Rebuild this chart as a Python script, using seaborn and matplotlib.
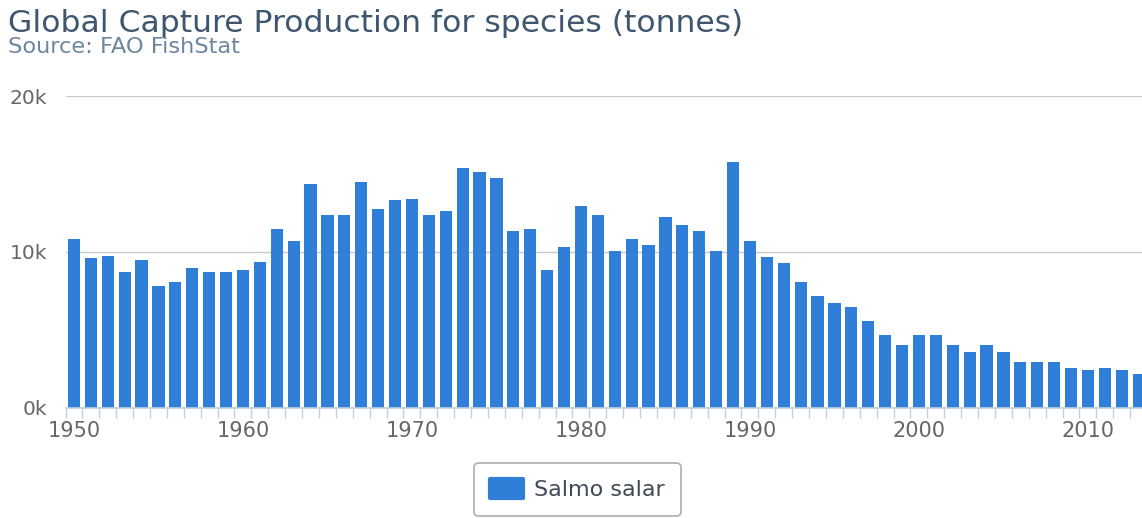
import matplotlib
matplotlib.use("Agg")
import matplotlib.pyplot as plt
from matplotlib.ticker import FixedLocator
import seaborn as sns
import pandas as pd

years = list(range(1950, 2014))
capture_tonnes = [
    10820, 9630, 9740, 8690, 9490, 7810, 8050, 8970, 8690, 8690,
    8860, 9360, 11480, 10690, 14350, 12360, 12360, 14480, 12770, 13300,
    13410, 12360, 12640, 15380, 15140, 14740, 11330, 11480, 8860, 10300,
    12910, 12360, 10040, 10820, 10410, 12250, 11720, 11350, 10040, 15790,
    10690, 9660, 9250, 8050, 7130, 6740, 6480, 5580, 4640, 4000,
    4640, 4640, 4000, 3590, 4000, 3590, 2950, 2950, 2950, 2540,
    2410, 2540, 2410, 2150,
]
series_name = "Salmo salar"
y_ticks = [0, 10000, 20000]
y_tick_labels = ["0k", "10k", "20k"]
title = "Global Capture Production for species (tonnes)"
subtitle = "Source: FAO FishStat"

df = pd.DataFrame({
    "year": [str(y) for y in years],
    "tonnes": capture_tonnes,
    "species": series_name,
})

sns.set_theme(style="white")
plt.rcParams["font.family"] = ["DejaVu Sans"]

W, H = 1142, 518
fig = plt.figure(figsize=(W / 100, H / 100), dpi=100)
left_px, right_px, top_px, bottom_px = 65.5, 1142, 96, 407.5
ax = fig.add_axes([left_px / W, 1 - bottom_px / H,
                   (right_px - left_px) / W, (bottom_px - top_px) / H])

bar_color = "#2F7ED8"
sns.barplot(data=df, x="year", y="tonnes", hue="species",
            palette=[bar_color], saturation=1, width=0.72, ax=ax, legend=True,
            edgecolor="none", linewidth=0)

ax.set_xlim(-0.5, 63.2)
ax.set_ylim(0, 20000)
ax.set_xlabel("")
ax.set_ylabel("")

# grid
ax.set_yticks(y_ticks)
ax.set_yticklabels(y_tick_labels)
ax.yaxis.grid(True, color="#C8C8C8", linewidth=1.0)
ax.set_axisbelow(True)
ax.tick_params(axis="y", length=0, pad=13, labelsize=14.5, labelcolor="#666666")

# x axis ticks
major_pos = [i for i, y in enumerate(years) if y % 10 == 0]
ax.set_xticks(major_pos)
ax.set_xticklabels([str(years[i]) for i in major_pos])
ax.xaxis.set_minor_locator(FixedLocator([i + 0.5 for i in range(-1, len(years))]))
ax.tick_params(axis="x", which="major", length=0, pad=10, labelsize=15,
               labelcolor="#666666")
ax.tick_params(axis="x", which="minor", length=7.5, width=1.0, color="#C0D0E0",
               bottom=True)

for s in ["top", "right", "left"]:
    ax.spines[s].set_visible(False)
ax.spines["bottom"].set_color("#C0D0E0")
ax.spines["bottom"].set_linewidth(1.2)

# titles
fig.text(8 / W, 1 - 32 / H, title, fontsize=22.6, color="#3E576F",
         ha="left", va="baseline")
fig.text(8 / W, 1 - 53 / H, subtitle, fontsize=16.2, color="#6D869F",
         ha="left", va="baseline")

# legend
sns.move_legend(ax, "center", bbox_to_anchor=(577.5 / W, 1 - 489.5 / H),
                bbox_transform=fig.transFigure, title=None, frameon=True,
                fontsize=16, handlelength=1.45, handleheight=0.95,
                handletextpad=0.5, borderpad=0.72, fancybox=True)
leg = ax.get_legend()
frame = leg.get_frame()
frame.set_edgecolor("#A0A0A0")
frame.set_linewidth(1.3)
frame.set_facecolor("white")
for t in leg.get_texts():
    t.set_color("#3E4A57")
for h in leg.legend_handles:
    h.set_edgecolor(bar_color)
    h.set_linewidth(3)
    h.set_joinstyle("round")

fig.savefig("out.png", dpi=100)
